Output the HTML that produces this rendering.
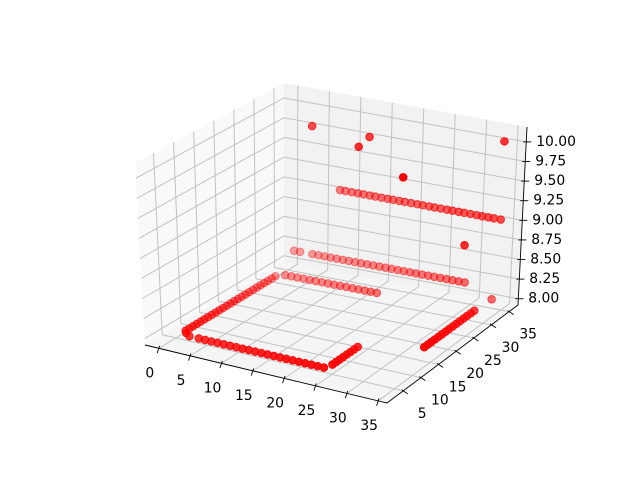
<!DOCTYPE html>
<html><head><meta charset="utf-8"><style>
html,body{margin:0;padding:0;background:#fff;}
svg{display:block;font-family:"DejaVu Sans","Liberation Sans",sans-serif;}
</style></head><body>
<svg id="chart" width="640" height="480" viewBox="0 0 640 480">
<g id="panes"></g>
<g id="grid"></g>
<g id="axes"></g>
<g id="points"></g>
</svg>
<script>
// ---- data ----
const xVals = [
 4,5,6,7,8,9,10,11,12,13,14,15,16,17,18,19,20,21,22,23,24,
 2.5,1.5,
 24.5,24.5,24.5,24.5,24.5,24.5,24.5,24.5,
 1,1,1,1,1,1,1,1,1,1,1,1,1,1,1,1,1,1,1,1,1,1,1,1,1,
 2,3,4,5,6,7,8,9,10,11,12,13,14,15,16,17,
 0.5,1.5,3.5,4.5,5.5,6.5,7.5,8.5,9.5,10.5,11.5,12.5,13.5,14.5,15.5,16.5,17.5,18.5,19.5,20.5,21.5,22.5,23.5,24.5,25.5,26.5,27.5,28.5,
 7.5,8.4,9.4,10.4,11.3,12.3,13.2,14.2,15.2,16.1,17.1,18,19,20,20.9,21.9,22.8,23.8,24.8,25.7,26.7,27.6,28.6,29.6,30.5,31.5,32.4,33.5,
 35.5,35.5,35.5,35.5,35.5,35.5,35.5,35.5,35.5,35.5,35.5,35.5,35.5,35.5,35.5,
 7.2,16.3,17,28.3,33.6,33.7,33
];
const yVals = [
 4.5,4.5,4.5,4.5,4.5,4.5,4.5,4.5,4.5,4.5,4.5,4.5,4.5,4.5,4.5,4.5,4.5,4.5,4.5,4.5,4.5,
 4.5,5.3,
 6,7,8,9,10,11,12,13,
 6,7,8,9,10,11,12,13,14,15,16,17,18,19,20,21,22,23,24,25,26,27,28,29,30,
 31,31,31,31,31,31,31,31,31,31,31,31,31,31,31,31,
 35.8,35.8,35.8,35.8,35.8,35.8,35.8,35.8,35.8,35.8,35.8,35.8,35.8,35.8,35.8,35.8,35.8,35.8,35.8,35.8,35.8,35.8,35.8,35.8,35.8,35.8,35.8,35.8,
 36.5,36.5,36.5,36.5,36.5,36.5,36.5,36.5,36.5,36.5,36.5,36.5,36.5,36.5,36.5,36.5,36.5,36.5,36.5,36.5,36.5,36.5,36.5,36.5,36.5,36.5,36.5,36.5,
 12.5,13.5,14.5,15.5,16.5,17.5,18.5,19.5,20.5,21.5,22.5,23.5,24.5,25.5,26.5,
 29.7,29.7,25.8,18.8,36.4,26.4,35.8
];
const zVals = [
 8,8,8,8,8,8,8,8,8,8,8,8,8,8,8,8,8,8,8,8,8,
 8,8,
 8,8,8,8,8,8,8,8,
 8,8,8,8,8,8,8,8,8,8,8,8,8,8,8,8,8,8,8,8,8,8,8,8,8,
 8,8,8,8,8,8,8,8,8,8,8,8,8,8,8,8,
 8.15,8.15,8.15,8.15,8.15,8.15,8.15,8.15,8.15,8.15,8.15,8.15,8.15,8.15,8.15,8.15,8.15,8.15,8.15,8.15,8.15,8.15,8.15,8.15,8.15,8.15,8.15,8.15,
 9,9,9,9,9,9,9,9,9,9,9,9,9,9,9,9,9,9,9,9,9,9,9,9,9,9,9,9,
 8.2,8.2,8.2,8.2,8.2,8.2,8.2,8.2,8.2,8.2,8.2,8.2,8.2,8.2,8.2,
 10,10,10,10,10,9,8
];
const xTicks = [0,5,10,15,20,25,30,35];
const yTicks = [5,10,15,20,25,30,35];
const zTicks = [8.00,8.25,8.50,8.75,9.00,9.25,9.50,9.75,10.00];
const xLim = [-2.2,36.4];
const yLim = [0.4,37.5];
const zLim = [7.92,10.19];

// ---- projection (axis functions) ----
const B00=[145,345],B10=[387,403],B11=[518,305],B01=[284,262];
const T00=[135,163],T10=[384,217],T11=[527,127],T01=[284,83];
function bil(a,b,c,d,u,v){
  return [a[0]*(1-u)*(1-v)+b[0]*u*(1-v)+c[0]*u*v+d[0]*(1-u)*v,
          a[1]*(1-u)*(1-v)+b[1]*u*(1-v)+c[1]*u*v+d[1]*(1-u)*v];
}
function proj(x,y,z){
  const u=(x-xLim[0])/(xLim[1]-xLim[0]);
  const v=(y-yLim[0])/(yLim[1]-yLim[0]);
  const w=(z-zLim[0])/(zLim[1]-zLim[0]);
  const f=bil(B00,B10,B11,B01,u,v), t=bil(T00,T10,T11,T01,u,v);
  return [f[0]+w*(t[0]-f[0]), f[1]+w*(t[1]-f[1])];
}
const NS="http://www.w3.org/2000/svg";
function mk(tag,attrs,parent){const e=document.createElementNS(NS,tag);for(const k in attrs)e.setAttribute(k,attrs[k]);parent.appendChild(e);return e;}
function line(p,q,stroke,w,parent){return mk('line',{x1:p[0].toFixed(2),y1:p[1].toFixed(2),x2:q[0].toFixed(2),y2:q[1].toFixed(2),stroke:stroke,'stroke-width':w},parent);}
function poly(pts,fill,parent){return mk('polygon',{points:pts.map(p=>p[0]+','+p[1]).join(' '),fill:fill},parent);}

const panes=document.getElementById('panes'),grid=document.getElementById('grid'),axes=document.getElementById('axes'),pts=document.getElementById('points');
const [X0,X1]=xLim,[Y0,Y1]=yLim,[Z0,Z1]=zLim;
let e;
e=poly([proj(X0,Y0,Z0),proj(X0,Y1,Z0),proj(X0,Y1,Z1),proj(X0,Y0,Z1)],'#f9f9f9',panes);


e=poly([proj(X0,Y1,Z0),proj(X1,Y1,Z0),proj(X1,Y1,Z1),proj(X0,Y1,Z1)],'#f2f2f2',panes);


e=poly([proj(X0,Y0,Z0),proj(X1,Y0,Z0),proj(X1,Y1,Z0),proj(X0,Y1,Z0)],'#f5f5f5',panes);



const GC='#c2c2c2';
xTicks.forEach(t=>{
  e=line(proj(t,Y0,Z0),proj(t,Y1,Z0),GC,1,grid);
  
  
  e=line(proj(t,Y1,Z0),proj(t,Y1,Z1),GC,1,grid);
  
  
});
yTicks.forEach(t=>{
  e=line(proj(X0,t,Z0),proj(X1,t,Z0),GC,1,grid);
  
  
  e=line(proj(X0,t,Z0),proj(X0,t,Z1),GC,1,grid);
  
  
});
zTicks.forEach(t=>{
  e=line(proj(X0,Y0,t),proj(X0,Y1,t),GC,1,grid);
  
  
  e=line(proj(X0,Y1,t),proj(X1,Y1,t),GC,1,grid);
  
  
});

e=line(proj(X0,Y0,Z0),proj(X1,Y0,Z0),'#000',0.9,axes);


e=line(proj(X1,Y0,Z0),proj(X1,Y1,Z0),'#000',0.9,axes);


e=line(proj(X1,Y1,Z0),proj(X1,Y1,Z1),'#000',0.9,axes);



function txt(s,x,y,anchor){
  const t=mk('text',{x:x.toFixed(1),y:y.toFixed(1),'font-size':'13.9','text-anchor':anchor,'dominant-baseline':'central',fill:'#000'},axes);
  t.textContent=s;return t;
}
xTicks.forEach(t=>{
  const p=proj(t,Y0,Z0);
  e=line([p[0]+0.8,p[1]-2.4],[p[0]-1.6,p[1]+4.8],'#000',0.9,axes);
  
  
  e=txt(String(t),p[0]-9,p[1]+25,'middle');
  
  
});
yTicks.forEach(t=>{
  const p=proj(X1,t,Z0);
  e=line([p[0]-1.5,p[1]-1],[p[0]+4.5,p[1]+3],'#000',0.9,axes);
  
  
  e=txt(String(t),p[0]+19,p[1]+23,'middle');
  
  
});
zTicks.forEach(t=>{
  const p=proj(X1,Y1,t);
  e=line([p[0]-3,p[1]],[p[0]+5,p[1]],'#000',0.9,axes);
  
  
  e=txt(t.toFixed(2),p[0]+10,p[1],'start');
  
  
});

const cx=0.433,cy=-0.75,cz=0.5;
const depth=xVals.map((x,i)=>{
  const xn=(x-X0)/(X1-X0),yn=(yVals[i]-Y0)/(Y1-Y0),zn=0.75*(zVals[i]-Z0)/(Z1-Z0);
  return cx*xn+cy*yn+cz*zn;
});
const dmin=Math.min(...depth),dmax=Math.max(...depth);
const order=xVals.map((_,i)=>i).sort((a,b)=>depth[a]-depth[b]);
order.forEach(i=>{
  const p=proj(xVals[i],yVals[i],zVals[i]);
  const a=0.35+0.65*(depth[i]-dmin)/(dmax-dmin||1);
  const c=mk('circle',{cx:p[0].toFixed(2),cy:p[1].toFixed(2),r:3.8,fill:'#ff0000','fill-opacity':a.toFixed(3),stroke:'#ff0000','stroke-opacity':a.toFixed(3),'stroke-width':1},pts);
  
  
});
</script>
</body></html>
